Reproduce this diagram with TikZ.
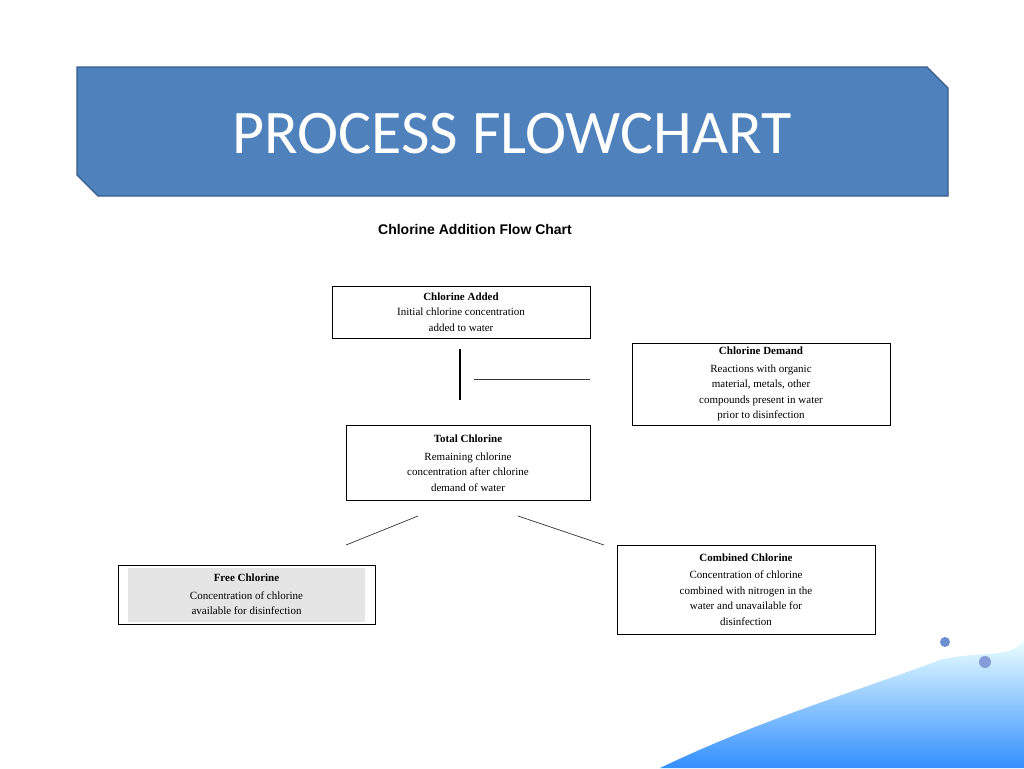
\documentclass[tikz,border=0pt]{standalone}
\usepackage{fontspec}
\setmainfont{Liberation Serif}
\newfontfamily\titlefont{Carlito}
\newfontfamily\subfont{Liberation Sans}
\begin{document}
\begin{tikzpicture}[x=1pt,y=-1pt,
  box/.style={draw=black,line width=0.8pt,inner sep=0pt,align=center,font=\fontsize{11}{15.5}\selectfont},
  ln/.style={line width=0.7pt,draw=black!80}]
\useasboundingbox (0,0) rectangle (1024,768);
\fill[white] (0,0) rectangle (1024,768);
% water decoration
\shade[top color=cyan!10,bottom color=blue!55!cyan,opacity=0.8]
  (660,768) .. controls (760,720) and (860,690) .. (940,660) .. controls (980,650) and (1010,660) .. (1024,640) -- (1024,768) -- cycle;
\fill[cyan!40!blue!60] (945,642) circle (5);
\fill[cyan!40!blue!50] (985,662) circle (6);
% title
\filldraw[fill={rgb,255:red,79;green,129;blue,189},draw={rgb,255:red,56;green,93;blue,138},line width=1.2pt]
 (77,67) -- (927,67) -- (948,88) -- (948,196) -- (98,196) -- (77,175) -- cycle;
\node[text=white,font=\titlefont\fontsize{62}{62}\selectfont] (title) at (512,134) {PROCESS FLOWCHART};
\node[font=\subfont\bfseries\fontsize{14}{14}\selectfont] (sub) at (475,229) {Chlorine Addition Flow Chart};
% boxes
\node[box,minimum width=258,minimum height=52] (added) at (461,312)
  {\textbf{Chlorine Added}\\Initial chlorine concentration\\added to water};
\node[box,minimum width=258,minimum height=82] (demand) at (761,384)
  {\textbf{Chlorine Demand}\\[2pt]Reactions with organic\\material, metals, other\\compounds present in water\\prior to disinfection};
\node[box,minimum width=244,minimum height=75] (total) at (468,463)
  {\textbf{Total Chlorine}\\[2pt]Remaining chlorine\\concentration after chlorine\\demand of water};
\fill[black!10] (128,568) rectangle (365,622);
\node[box,minimum width=257,minimum height=59] (free) at (246.5,594.5)
  {\textbf{Free Chlorine}\\[2pt]Concentration of chlorine\\available for disinfection};
\node[box,minimum width=258,minimum height=89] (comb) at (746,589.5)
  {\textbf{Combined Chlorine}\\[2pt]Concentration of chlorine\\combined with nitrogen in the\\water and unavailable for\\disinfection};
% connectors
\coordinate (v1) at (460,349); \coordinate (v2) at (460,400);
\coordinate (h1) at (474,379); \coordinate (h2) at (590,379);
\coordinate (l1) at (418,516); \coordinate (l2) at (346,545);
\coordinate (r1) at (518,516); \coordinate (r2) at (604,545);
\draw[line width=1.3pt] (v1) -- (v2);
\draw[ln] (h1) -- (h2);
\draw[ln] (l1) -- (l2);
\draw[ln] (r1) -- (r2);
\end{tikzpicture}
\end{document}
